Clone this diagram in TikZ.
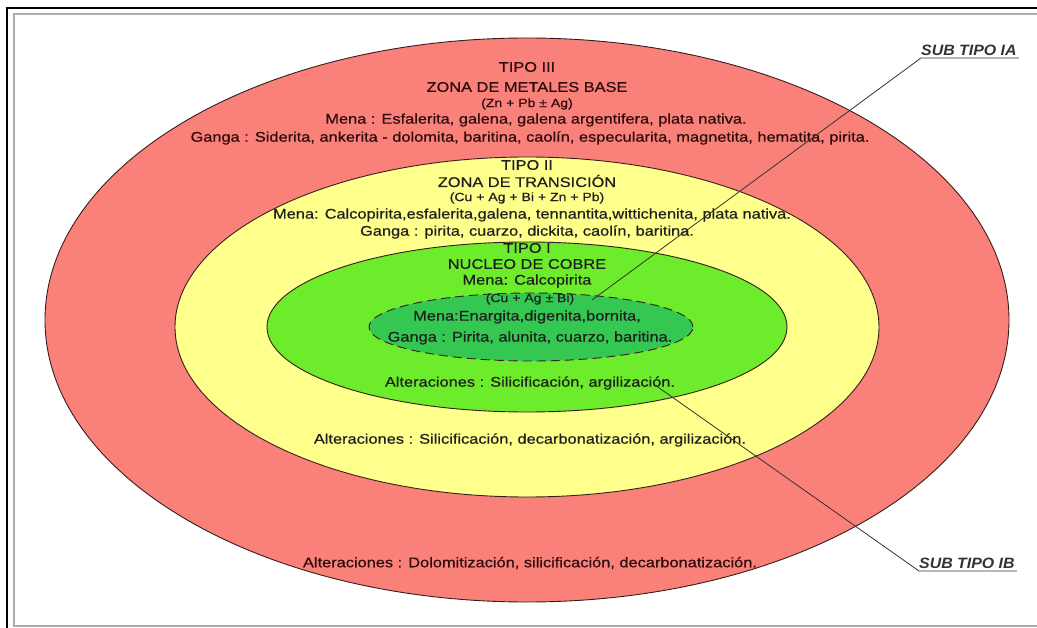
\documentclass[tikz,border=0pt]{standalone}
\usepackage{fontspec}
\setmainfont{Liberation Sans}[FakeStretch=1.17, FakeBold=0.5]
\newfontfamily\labelfont{Liberation Sans}[FakeStretch=1.06]

\definecolor{zonered}{RGB}{250,128,122}
\definecolor{zoneyellow}{RGB}{255,255,140}
\definecolor{zonegreen}{RGB}{108,236,42}
\definecolor{subgreen}{RGB}{52,200,82}
\definecolor{rim}{RGB}{55,30,30}
\definecolor{inkred}{RGB}{45,12,12}

\tikzset{
  zonetext/.style={font=\fontsize{14}{16}\selectfont, text=black!88, inner sep=0pt},
  formula/.style={font=\fontsize{12}{14}\selectfont, text=black!88, inner sep=0pt},
  sublabel/.style={font=\labelfont\fontsize{15}{17}\selectfont\bfseries\itshape, text=black!80,
                   inner sep=0pt, anchor=south west},
  rimline/.style={draw=rim, line width=0.9pt},
  leader/.style={draw=black!80, line width=0.8pt},
}

\begin{document}
\begin{tikzpicture}[x=1pt, y=-1pt]
        \useasboundingbox (0,0) rectangle (1037,628);

        % Frame
        \draw[line width=1.6pt] (7,628) -- (7,8) -- (1037,8);
        \draw[gray!65, line width=1.4pt] (1037,14) -- (14,14) -- (14,626) -- (1037,626);

        % Zones, outside in
        \path[fill=zonered, rimline] (527,320) ellipse [x radius=482pt, y radius=282pt];
        \path[fill=zoneyellow, rimline] (527,327) ellipse [x radius=352pt, y radius=170pt];
        \path[fill=zonegreen, rimline] (527,327) ellipse [x radius=260pt, y radius=85pt];
        \path[fill=subgreen, rimline, dashed, dash pattern=on 9pt off 5pt]
            (531,327) ellipse [x radius=162pt, y radius=34pt];

        % Tipo III
        \node[zonetext, text=inkred] (tipoIII) at (527,67) {TIPO III};
        \node[zonetext, text=inkred] (zonaIII) at (527,87) {ZONA DE METALES BASE};
        \node[formula, text=inkred] (formIII) at (527,104) {(Zn + Pb ± Ag)};
        \node[zonetext, text=inkred] (menaIII) at (536,120) {Mena : Esfalerita, galena, galena argentifera, plata nativa.};
        \node[zonetext, text=inkred] (gangaIII) at (530,138) {Ganga : Siderita, ankerita - dolomita, baritina, caolín, especularita, magnetita, hematita, pirita.};
        \node[zonetext, text=inkred] (altIII) at (530,563) {Alteraciones : Dolomitización, silicificación, decarbonatización.};

        % Tipo II
        \node[zonetext] (tipoII) at (527,165) {TIPO II};
        \node[zonetext] (zonaII) at (527,181) {ZONA DE TRANSICIÓN};
        \node[formula] (formII) at (527,198) {(Cu + Ag + Bi + Zn + Pb)};
        \node[zonetext] (menaII) at (532,215) {Mena: Calcopirita,esfalerita,galena, tennantita,wittichenita, plata nativa.};
        \node[zonetext] (gangaII) at (527,232) {Ganga : pirita, cuarzo, dickita, caolín, baritina.};
        \node[zonetext] (altII) at (530,440) {Alteraciones : Silicificación, decarbonatización, argilización.};

        % Tipo I
        \node[zonetext] (tipoI) at (527,248) {TIPO I};
        \node[zonetext] (zonaI) at (527,264) {NUCLEO DE COBRE};
        \node[zonetext] (menaI) at (527,281) {Mena: Calcopirita};
        \node[formula] (formI) at (530,299) {(Cu + Ag ± Bi)};
        \node[zonetext] (menaIA) at (527,317) {Mena:Enargita,digenita,bornita,};
        \node[zonetext] (gangaIA) at (530,338) {Ganga : Pirita, alunita, cuarzo, baritina.};
        \node[zonetext] (altI) at (530,383) {Alteraciones : Silicificación, argilización.};

        % Sub types
        \node[sublabel] (subIA) at (921,56) {SUB TIPO IA};
        \node[sublabel] (subIB) at (919,569) {SUB TIPO IB};
        \coordinate (tipIA) at (592,300);
        \coordinate (tipIB) at (655,385);
        \draw[leader] (tipIA) -- ([yshift=-2pt]subIA.south west) -- ([shift={(2pt,-2pt)}]subIA.south east);
        \draw[leader] (tipIB) -- ([yshift=-2pt]subIB.south west) -- ([shift={(2pt,-2pt)}]subIB.south east);
    \end{tikzpicture}
\end{document}
